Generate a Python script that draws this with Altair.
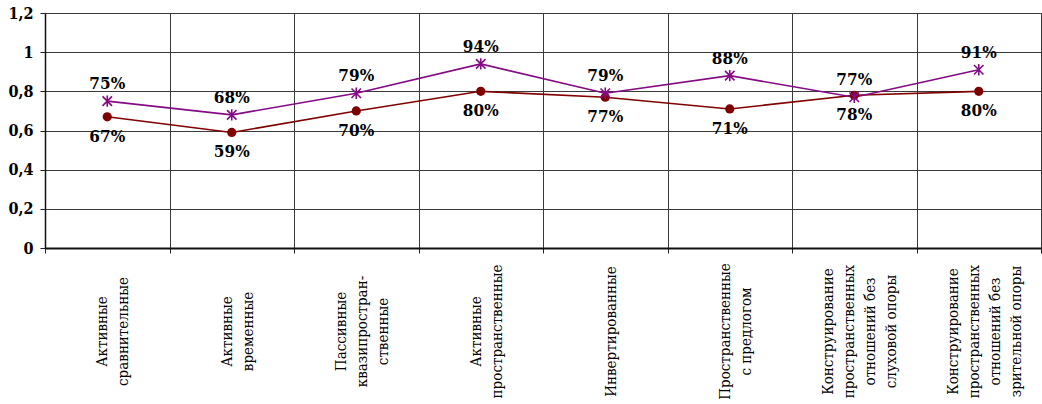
import altair as alt
import pandas as pd

categories = [
    "Активные\nсравнительные",
    "Активные\nвременные",
    "Пассивные\nквазипростран-\nственные",
    "Активные\nпространственные",
    "Инвертированные",
    "Пространственные\nс предлогом",
    "Конструирование\nпространственных\nотношений без\nслуховой опоры",
    "Конструирование\nпространственных\nотношений без\nзрительной опоры",
]
purple_values = [0.75, 0.68, 0.79, 0.94, 0.79, 0.88, 0.77, 0.91]
red_values = [0.67, 0.59, 0.70, 0.80, 0.77, 0.71, 0.78, 0.80]
y_ticks = [0, 0.2, 0.4, 0.6, 0.8, 1.0, 1.2]

PURPLE = "#850A85"
RED = "#800000"
SERIF = "DejaVu Serif Condensed"
STAR = "M-1,-1L1,1M-1,1L1,-1M0,-1.2L0,1.2"

df = pd.DataFrame(
    [{"category": c, "value": v, "series": "purple"} for c, v in zip(categories, purple_values)]
    + [{"category": c, "value": v, "series": "red"} for c, v in zip(categories, red_values)]
)

x = alt.X(
    "category:N",
    sort=categories,
    title=None,
    scale=alt.Scale(type="band", paddingInner=0, paddingOuter=0),
    axis=alt.Axis(
        tickBand="extent",
        grid=True,
        gridColor="#3a3a3a",
        gridWidth=1,
        ticks=True,
        tickSize=5,
        tickColor="#222",
        domainColor="#111",
        domainWidth=2,
        labelAngle=-90,
        labelAlign="center",
        labelBaseline="middle",
        labelPadding=78,
        labelOffset={"expr": "5 - (length(split(datum.label, '\\n')) - 1) * 10.5"},
        labelFont=SERIF,
        labelFontSize=15,
        labelFontWeight="normal",
        labelColor="#000",
        labelLineHeight=21,
        labelOverlap=False,
        labelBound=False,
        labelExpr="split(datum.label, '\\n')",
    ),
)
y = alt.Y(
    "value:Q",
    title=None,
    scale=alt.Scale(domain=[0, 1.2], nice=False, zero=True),
    axis=alt.Axis(
        values=y_ticks,
        format=".1~f",
        labelExpr="replace(datum.label, '.', ',')",
        grid=True,
        gridColor="#3a3a3a",
        gridWidth=1,
        tickSize=5,
        tickColor="#222",
        domainColor="#111",
        domainWidth=1.5,
        labelPadding=7,
        labelFont=SERIF,
        labelFontSize=16,
        labelFontWeight="bold",
        labelColor="#000",
    ),
)

base = alt.Chart(df)
purple = base.transform_filter(alt.datum.series == "purple")
red = base.transform_filter(alt.datum.series == "red")

purple_line = purple.mark_line(color=PURPLE, strokeWidth=1.6).encode(x=x, y=y)
purple_pts = purple.mark_point(
    shape=STAR, size=90, filled=False, color=PURPLE, strokeWidth=1.6, opacity=1
).encode(x=x, y=y)
purple_txt = purple.mark_text(
    dy=-17, font=SERIF, fontSize=17, fontWeight="bold", color="#000", baseline="middle"
).encode(x=x, y=y, text=alt.Text("value:Q", format=".0%"))

red_line = red.mark_line(color=RED, strokeWidth=1.6).encode(x=x, y=y)
red_pts = red.mark_circle(size=85, color=RED, opacity=1).encode(x=x, y=y)
red_txt = red.mark_text(
    dy=20, font=SERIF, fontSize=17, fontWeight="bold", color="#000", baseline="middle"
).encode(x=x, y=y, text=alt.Text("value:Q", format=".0%"))

chart = (
    alt.layer(red_line, purple_line, red_pts, purple_pts, purple_txt, red_txt)
    .properties(
        width=996,
        height=235,
        autosize=alt.AutoSizeParams(type="none"),
        padding={"left": 45, "top": 13, "right": 1, "bottom": 156},
        background="white",
    )
    .configure_view(stroke="#777", strokeWidth=1)
)

chart.save("out.html", embed_options={"renderer": "svg", "actions": False})
